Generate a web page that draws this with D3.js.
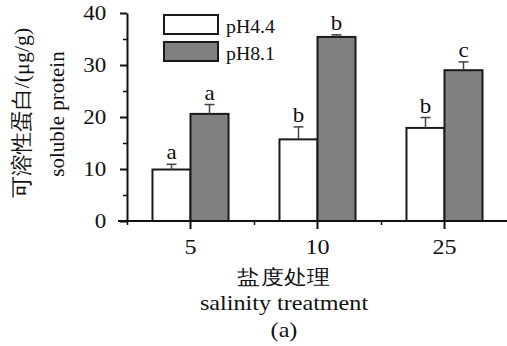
<!DOCTYPE html>
<html>
<head>
<meta charset="utf-8">
<script src="https://cdn.jsdelivr.net/npm/d3@7"></script>
<style>
  body { margin: 0; background: #fff; }
</style>
</head>
<body>
<svg id="chart"></svg>
<script>
var salinity = ['5', '10', '25'];
var series = ['pH4.4', 'pH8.1'];
var means = [[9.9, 20.6], [15.7, 35.4], [17.9, 29.0]];
var errors = [[1.0, 1.8], [2.4, 0.4], [2.0, 1.6]];
var letters = [['a', 'a'], ['b', 'b'], ['b', 'c']];
var yTicks = [0, 10, 20, 30, 40];
var yMinor = [5, 15, 25, 35];
var fills = ['#ffffff', '#808080'];

var width = 507, height = 346;
var sx = 1.15; // reference is stretched a little horizontally

var svg = d3.select('#chart')
  .attr('width', width)
  .attr('height', height);

var x0 = d3.scaleBand().domain(salinity).range([127, 508]);
var x1 = d3.scaleBand().domain(series).range([0, x0.bandwidth()]).paddingOuter(0.67);
var y = d3.scaleLinear().domain([0, 40]).range([221, 13]);

// bars
var groups = svg.selectAll('.grp')
  .data(salinity)
  .enter().append('g')
    .attr('class', 'grp')
    .attr('transform', function(d) { return 'translate(' + x0(d) + ',0)'; });

var cells = groups.selectAll('.cell')
  .data(function(d, i) {
    return series.map(function(s, j) {
      return {s: s, v: means[i][j], e: errors[i][j], l: letters[i][j], j: j};
    });
  })
  .enter().append('g').attr('class', 'cell');

cells.append('rect')
  .attr('x', function(d) { return x1(d.s); })
  .attr('width', x1.bandwidth())
  .attr('y', function(d) { return y(d.v); })
  .attr('height', function(d) { return y(0) - y(d.v); })
  .attr('fill', function(d) { return fills[d.j]; })
  .attr('stroke', '#1a1a1a')
  .attr('stroke-width', 2);

cells.append('line')
  .attr('x1', function(d) { return x1(d.s) + x1.bandwidth() / 2; })
  .attr('x2', function(d) { return x1(d.s) + x1.bandwidth() / 2; })
  .attr('y1', function(d) { return y(d.v); })
  .attr('y2', function(d) { return y(d.v + d.e); })
  .attr('stroke', '#444').attr('stroke-width', 1.5);

cells.append('line')
  .attr('x1', function(d) { return x1(d.s) + x1.bandwidth() / 2 - 5; })
  .attr('x2', function(d) { return x1(d.s) + x1.bandwidth() / 2 + 5; })
  .attr('y1', function(d) { return y(d.v + d.e); })
  .attr('y2', function(d) { return y(d.v + d.e); })
  .attr('stroke', '#444').attr('stroke-width', 1.5);

cells.append('text')
  .attr('transform', function(d) {
    return 'translate(' + (x1(d.s) + x1.bandwidth() / 2) + ',' + (y(d.v + d.e) - 5) + ') scale(' + sx + ',1)';
  })
  .attr('text-anchor', 'middle')
  .style('font-size', '20px')
  .text(function(d) { return d.l; });

// y axis
var yAxis = svg.append('g').attr('transform', 'translate(127,0)');
yAxis.call(d3.axisLeft(y).tickValues(yTicks).tickSize(7).tickSizeOuter(0).tickPadding(11));
yAxis.select('.domain').attr('stroke', '#111').attr('stroke-width', 2);
yAxis.selectAll('.tick line').attr('stroke', '#111').attr('stroke-width', 2);
yAxis.selectAll('.tick text')
  .style('font-size', '20px')
  .attr('transform', 'scale(' + sx + ',1)');
svg.append('g').attr('transform', 'translate(127,0)')
  .call(d3.axisLeft(y).tickValues(yMinor).tickSize(4).tickFormat(''))
  .call(function(g) { g.select('.domain').remove(); })
  .selectAll('line').attr('stroke', '#111').attr('stroke-width', 1.5);

// x axis
svg.append('line')
  .attr('x1', x0.range()[0] - 9).attr('x2', x0.range()[1])
  .attr('y1', y(0)).attr('y2', y(0))
  .attr('stroke', '#111').attr('stroke-width', 2);
var xAxis = svg.append('g').attr('transform', 'translate(0,' + y(0) + ')');
xAxis.call(d3.axisBottom(x0).tickSize(8).tickSizeOuter(0).tickPadding(10));
xAxis.select('.domain').remove();
xAxis.selectAll('.tick line').attr('stroke', '#111').attr('stroke-width', 2);
xAxis.selectAll('.tick text')
  .style('font-size', '21px')
  .attr('transform', 'scale(' + sx + ',1)');
svg.append('g').attr('transform', 'translate(0,' + y(0) + ')')
  .call(d3.axisBottom(d3.scaleLinear().domain([0, 3]).range(x0.range()))
    .tickValues([0, 1, 2]).tickSize(4).tickFormat(''))
  .call(function(g) { g.select('.domain').remove(); })
  .selectAll('line').attr('stroke', '#111').attr('stroke-width', 1.5);

// axis titles
var xTitles = [['盐度处理', 284, 20], ['salinity treatment', 310, 21], ['(a)', 337, 21]];
xTitles.forEach(function(t) {
  svg.append('text')
    .attr('transform', 'translate(284,' + t[1] + ') scale(' + sx + ',1)')
    .attr('text-anchor', 'middle')
    .style('font-size', t[2] + 'px')
    .text(t[0]);
});
svg.append('text')
  .attr('transform', 'translate(29,113) rotate(-90)')
  .attr('text-anchor', 'middle')
  .style('font-size', '22px')
  .text('可溶性蛋白/(μg/g)');
svg.append('text')
  .attr('transform', 'translate(64,114) rotate(-90)')
  .attr('text-anchor', 'middle')
  .style('font-size', '21px')
  .text('soluble protein');

// legend
var legend = svg.selectAll('.leg')
  .data(series)
  .enter().append('g')
    .attr('class', 'leg')
    .attr('transform', function(d, i) { return 'translate(164,' + (15 + i * 27) + ')'; });
legend.append('rect')
  .attr('width', 54).attr('height', 19)
  .attr('fill', function(d, i) { return fills[i]; })
  .attr('stroke', '#1a1a1a').attr('stroke-width', 2);
legend.append('text')
  .attr('transform', 'translate(62,18) scale(1.1,1)')
  .style('font-size', '18px')
  .text(function(d) { return d; });

svg.selectAll('g').attr('font-family', null);
svg.selectAll('text')
  .style('font-family', "'Liberation Serif', serif")
  .attr('fill', '#111');
</script>
</body>
</html>
